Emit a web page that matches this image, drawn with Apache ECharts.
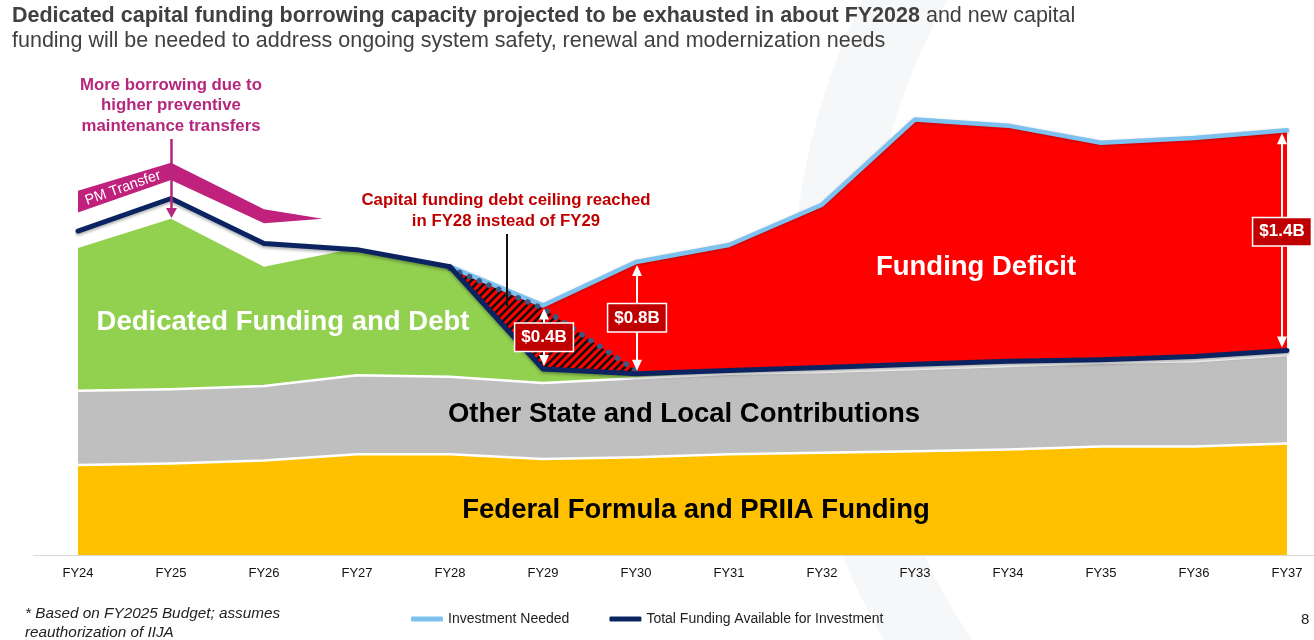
<!DOCTYPE html>
<html><head><meta charset="utf-8">
<script src="https://cdn.jsdelivr.net/npm/echarts@6/dist/echarts.min.js"></script>
<style>html,body{margin:0;padding:0;background:#fff}#c{width:1314px;height:640px}</style>
</head><body><div id="c"></div>
<script>
// ---------- data (values in $B) ----------
const categories = ['FY24','FY25','FY26','FY27','FY28','FY29','FY30','FY31','FY32','FY33','FY34','FY35','FY36','FY37'];
const federalFunding   = [0.58,0.59,0.61,0.65,0.65,0.62,0.63,0.65,0.66,0.67,0.68,0.70,0.70,0.72];
const otherStateLocal  = [0.48,0.48,0.48,0.51,0.50,0.49,0.51,0.52,0.52,0.53,0.54,0.54,0.55,0.57];
const dedicatedFunding = [0.92,1.10,0.77,0.82,0.71,0.08,0.02,0,0,0,0,0,0,0];
const totalFunding     = [2.09,2.30,2.01,1.97,1.86,1.20,1.17,1.19,1.21,1.23,1.25,1.26,1.28,1.32];
const investmentNeeded = [null,null,null,null,1.86,1.61,1.89,2.00,2.26,2.81,2.77,2.66,2.69,2.74];
const priorCeilingPath = [null,null,null,null,1.85,1.59,1.19,null,null,null,null,null,null,null];
const pmTransferX      = [0,1,2,2.63];
const pmTransferBase   = [2.21,2.42,2.14,2.17];
const pmTransfer       = [0.14,0.11,0.09,0];
const gapIndex         = [5,6,13];
const gapText          = ['$0.4B','$0.8B','$1.4B'];

// ---------- derived ----------
const F = '"Liberation Sans", Arial, sans-serif';
const cum1 = federalFunding.slice();
const cum2 = cum1.map((v,i)=>v+otherStateLocal[i]);
const cum3 = cum2.map((v,i)=>v+dedicatedFunding[i]);
const pmTop = pmTransferBase.map((v,i)=>v+pmTransfer[i]);
const idx = categories.map((c,i)=>i);
const zeros = idx.map(()=>0);

const pc = document.createElement('canvas'); pc.width = 8; pc.height = 8;
const g = pc.getContext('2d');
g.fillStyle = '#FF0000'; g.fillRect(0,0,8,8);
g.strokeStyle = '#111'; g.lineWidth = 2.6; g.beginPath();
g.moveTo(-1,9); g.lineTo(9,-1); g.moveTo(-5,5); g.lineTo(5,-5); g.moveTo(3,13); g.lineTo(13,3); g.stroke();

function band(name, xs, lower, upper, fill, z){
  const ks = xs.map((x,i)=>i).filter(i=>lower[i]!=null && upper[i]!=null);
  return {type:'custom', name, z, silent:true, data:[[0,0]],
    renderItem(p, api){
      const pts = [];
      ks.forEach(i=>pts.push(api.coord([xs[i], upper[i]])));
      ks.slice().reverse().forEach(i=>pts.push(api.coord([xs[i], lower[i]])));
      return {type:'polygon', shape:{points:pts}, style:{fill}};
    }};
}
function lineData(arr){ return arr.map((v,i)=>v==null?null:[i,v]).filter(Boolean); }

const series = [
  band('Federal Formula and PRIIA Funding', idx, zeros, cum1, '#FFC000', 2),
  band('Other State and Local Contributions', idx, cum1, cum2, '#BFBFBF', 2),
  band('Dedicated Funding and Debt', idx, cum2, cum3, '#92D050', 2),
  band('Funding Deficit', idx, totalFunding, investmentNeeded, '#FF0000', 2),
  band('Debt ceiling hatch', idx, totalFunding, priorCeilingPath, {image: pc, repeat:'repeat'}, 2),
  band('PM Transfer', pmTransferX, pmTransferBase, pmTop, '#C0217C', 3),
  {type:'custom', name:'sep', z:3, silent:true, data:[[0,0]],
    renderItem(p, api){
      const mk = arr => ({type:'polyline', shape:{points: idx.map(i=>api.coord([i, arr[i]]))},
        style:{stroke:'#fff', lineWidth:2.5, fill:null}});
      return {type:'group', children:[mk(cum1), mk(cum2)]};
    }},
  {type:'line', name:'Investment Needed', z:4, data: lineData(investmentNeeded), symbol:'none',
    color:'#7DC1EE', lineStyle:{color:'#7DC1EE', width:4.5, cap:'round', join:'round',
      shadowColor:'rgba(0,0,0,0.25)', shadowBlur:3, shadowOffsetY:1}},
  {type:'line', name:'Prior path', z:5, data: lineData(priorCeilingPath), symbol:'none', silent:true,
    lineStyle:{color:'#3A5A86', width:5.5, type:[0.1,10.5], cap:'round'}},
  {type:'line', name:'Total Funding Available for Investment', z:6, data: lineData(totalFunding), symbol:'none',
    color:'#0B2461', lineStyle:{color:'#0B2461', width:5, cap:'round', join:'round',
      shadowColor:'rgba(0,0,0,0.3)', shadowBlur:3, shadowOffsetY:2}},
  {type:'custom', name:'gaps', z:7, silent:true, data: gapIndex.map(i=>[i, investmentNeeded[i]]),
    renderItem(p, api){
      const i = gapIndex[p.dataIndex];
      const t = api.coord([i, investmentNeeded[i]]);
      const b = api.coord([i, totalFunding[i]]);
      const last = i === categories.length-1;
      const x = t[0] + (last ? -5 : 1);
      const y1 = t[1]+3, y2 = b[1]-3, ym = last ? y1 + (y2-y1)*0.46 : (y1+y2)/2;
      return {type:'group', children:[
        {type:'line', shape:{x1:x, y1:y1+6, x2:x, y2:y2-6}, style:{stroke:'#fff', lineWidth:2}},
        {type:'polygon', shape:{points:[[x,y1],[x-5,y1+11],[x+5,y1+11]]}, style:{fill:'#fff'}},
        {type:'polygon', shape:{points:[[x,y2],[x-5,y2-11],[x+5,y2-11]]}, style:{fill:'#fff'}},
        {type:'text', x:x, y:ym, style:{text:gapText[p.dataIndex], align:'center', verticalAlign:'middle',
          fill:'#fff', fontFamily:F, fontWeight:'bold', fontSize:17, backgroundColor:'#C00000',
          borderColor:'#fff', borderWidth:1.5, padding:[5,6,5,6]}}
      ]};
    }}
];

const big = (text, x, y, fill, shadow) => ({type:'text', x, y, z:20, style:{text, align:'center', verticalAlign:'middle',
  fill, fontFamily:F, fontWeight:'bold', fontSize:27.5, shadowColor:shadow, shadowBlur:3, shadowOffsetX:1.5, shadowOffsetY:2}});

const chart = echarts.init(document.getElementById('c'));
chart.setOption({
  animation:false,
  backgroundColor:'#fff',
  grid:{left:78, right:27, top:90, bottom:85},
  xAxis:{type:'value', min:0, max:13, interval:1,
    axisLine:{show:false}, axisTick:{show:false}, splitLine:{show:false},
    axisLabel:{formatter:v=>categories[v]||'', color:'#111', fontSize:13, fontFamily:F, margin:12}},
  yAxis:{type:'value', min:0, max:3, show:false},
  legend:{left:406, top:607, itemWidth:32, itemHeight:5, itemGap:40, icon:'roundRect',
    textStyle:{fontSize:14, color:'#222', fontFamily:F},
    data:['Investment Needed','Total Funding Available for Investment']},
  series,
  graphic:[
    {type:'circle', z:-10, shape:{cx:1470, cy:300, r:640}, style:{fill:null, stroke:'#F6F7F8', lineWidth:75}},
    {type:'line', z:1, shape:{x1:33, y1:555.5, x2:1314, y2:555.5}, style:{stroke:'#D9D9D9', lineWidth:1}},
    {type:'text', x:12, y:4, z:20, style:{
      text:'{b|Dedicated capital funding borrowing capacity projected to be exhausted in about FY2028}{n| and new capital}\n{n|funding will be needed to address ongoing system safety, renewal and modernization needs}',
      rich:{b:{fontFamily:F, fontWeight:'bold', fontSize:21.5, fill:'#404040', lineHeight:25},
            n:{fontFamily:F, fontSize:21.5, fill:'#404040', lineHeight:25}}}},
    {type:'text', x:171, y:75, z:20, style:{text:'More borrowing due to\nhigher preventive\nmaintenance transfers',
      align:'center', fill:'#B5267D', fontFamily:F, fontWeight:'bold', fontSize:16.8, lineHeight:20.5}},
    {type:'line', z:20, shape:{x1:171.5, y1:139, x2:171.5, y2:210}, style:{stroke:'#B5267D', lineWidth:2.5}},
    {type:'polygon', z:20, shape:{points:[[166,208],[177,208],[171.5,218]]}, style:{fill:'#B5267D'}},
    {type:'text', x:123, y:188, z:20, rotation:0.34, style:{text:'PM Transfer', align:'center', verticalAlign:'middle',
      fill:'#fff', fontFamily:F, fontSize:14.5}},
    {type:'text', x:506, y:190, z:20, style:{text:'Capital funding debt ceiling reached\nin FY28 instead of FY29',
      align:'center', fill:'#C00000', fontFamily:F, fontWeight:'bold', fontSize:16.8, lineHeight:21}},
    {type:'line', z:20, shape:{x1:507, y1:234, x2:507, y2:306}, style:{stroke:'#111', lineWidth:2}},
    big('Dedicated Funding and Debt', 283, 322, '#fff', 'rgba(0,0,0,0.45)'),
    big('Other State and Local Contributions', 684, 414, '#000', 'rgba(0,0,0,0.3)'),
    big('Federal Formula and PRIIA Funding', 696, 510, '#000', 'rgba(0,0,0,0.3)'),
    big('Funding Deficit', 976, 267, '#fff', 'rgba(0,0,0,0.45)'),
    {type:'text', x:25, y:604, z:20, style:{text:'* Based on FY2025 Budget; assumes\nreauthorization of IIJA',
      fill:'#222', fontFamily:F, fontStyle:'italic', fontSize:15.3, lineHeight:19}},
    {type:'text', x:1301, y:612, z:20, style:{text:'8', fill:'#222', fontFamily:F, fontSize:15}}
  ]
});
</script></body></html>
